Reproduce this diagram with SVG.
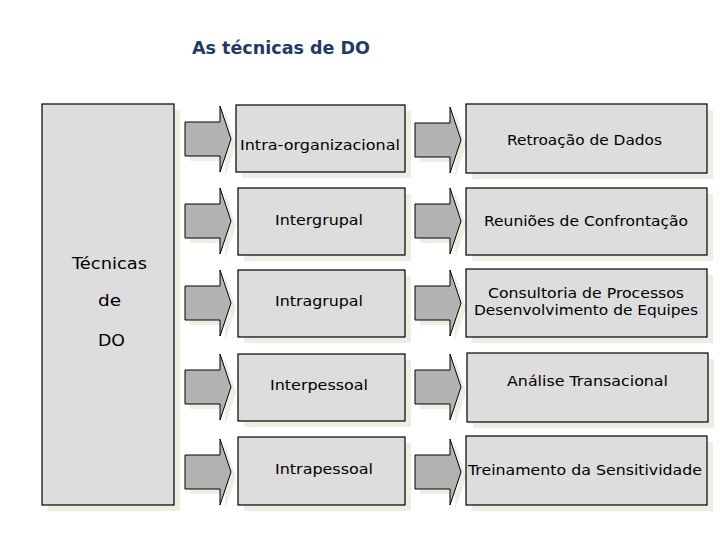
<svg xmlns="http://www.w3.org/2000/svg" xmlns:xlink="http://www.w3.org/1999/xlink" width="720" height="540" viewBox="0 0 720 540">
<style>
.box{fill:#DDDDDD;stroke:#000;stroke-width:1.2}
.sh{fill:#EEECE3;stroke:none}
.arr{fill:#B2B2B2;stroke:#000;stroke-width:1}
.t{font-family:"DejaVu Sans",Verdana,sans-serif;font-size:14.5px;fill:#000;text-anchor:start}
.title{font-family:"DejaVu Sans",Verdana,sans-serif;font-size:17px;font-weight:bold;fill:#1F3B64}
</style>
<defs>
<polygon id="arrow" points="0,16 35,16 35,0 46,33 35,66 35,50 0,50"/>
</defs>
<rect width="720" height="540" fill="#fff"/>
<text class="title" x="192" y="54" textLength="178" lengthAdjust="spacingAndGlyphs">As técnicas de DO</text>

<g id="main">
<rect class="sh" x="48" y="110" width="132" height="401"/>
<rect class="box" x="42" y="104" width="132" height="401"/>
<text class="t" x="72" y="269" textLength="75" lengthAdjust="spacingAndGlyphs" style="font-size:15.5px">Técnicas</text>
<text class="t" x="98" y="306" textLength="23" lengthAdjust="spacingAndGlyphs" style="font-size:15.5px">de</text>
<text class="t" x="98" y="346" textLength="27" lengthAdjust="spacingAndGlyphs" style="font-size:15.5px">DO</text>
</g>

<g id="connectors">
<g transform="translate(185,106)"><use xlink:href="#arrow" class="sh" transform="translate(5,5)"/><use xlink:href="#arrow" class="arr"/></g>
<g transform="translate(185,188)"><use xlink:href="#arrow" class="sh" transform="translate(5,5)"/><use xlink:href="#arrow" class="arr"/></g>
<g transform="translate(185,270)"><use xlink:href="#arrow" class="sh" transform="translate(5,5)"/><use xlink:href="#arrow" class="arr"/></g>
<g transform="translate(185,354)"><use xlink:href="#arrow" class="sh" transform="translate(5,5)"/><use xlink:href="#arrow" class="arr"/></g>
<g transform="translate(185,439)"><use xlink:href="#arrow" class="sh" transform="translate(5,5)"/><use xlink:href="#arrow" class="arr"/></g>
<g transform="translate(415,107)"><use xlink:href="#arrow" class="sh" transform="translate(5,5)"/><use xlink:href="#arrow" class="arr"/></g>
<g transform="translate(415,188)"><use xlink:href="#arrow" class="sh" transform="translate(5,5)"/><use xlink:href="#arrow" class="arr"/></g>
<g transform="translate(415,270)"><use xlink:href="#arrow" class="sh" transform="translate(5,5)"/><use xlink:href="#arrow" class="arr"/></g>
<g transform="translate(415,354)"><use xlink:href="#arrow" class="sh" transform="translate(5,5)"/><use xlink:href="#arrow" class="arr"/></g>
<g transform="translate(415,439)"><use xlink:href="#arrow" class="sh" transform="translate(5,5)"/><use xlink:href="#arrow" class="arr"/></g>
</g>

<g id="n1">
<rect class="sh" x="242" y="111" width="169" height="67"/>
<rect class="box" x="236" y="105" width="169" height="67"/>
<text class="t" x="240" y="150" textLength="160" lengthAdjust="spacingAndGlyphs">Intra-organizacional</text>
</g>
<g id="n2">
<rect class="sh" x="244" y="194" width="167" height="67"/>
<rect class="box" x="238" y="188" width="167" height="67"/>
<text class="t" x="275" y="225" textLength="88" lengthAdjust="spacingAndGlyphs">Intergrupal</text>
</g>
<g id="n3">
<rect class="sh" x="244" y="276" width="167" height="67"/>
<rect class="box" x="238" y="270" width="167" height="67"/>
<text class="t" x="275" y="306" textLength="88" lengthAdjust="spacingAndGlyphs">Intragrupal</text>
</g>
<g id="n4">
<rect class="sh" x="244" y="360" width="167" height="67"/>
<rect class="box" x="238" y="354" width="167" height="67"/>
<text class="t" x="270" y="390" textLength="98" lengthAdjust="spacingAndGlyphs">Interpessoal</text>
</g>
<g id="n5">
<rect class="sh" x="244" y="443" width="167" height="68"/>
<rect class="box" x="238" y="437" width="167" height="68"/>
<text class="t" x="275" y="474" textLength="98" lengthAdjust="spacingAndGlyphs">Intrapessoal</text>
</g>

<g id="m1">
<rect class="sh" x="472" y="110" width="241" height="69"/>
<rect class="box" x="466" y="104" width="241" height="69"/>
<text class="t" x="507" y="145" textLength="155" lengthAdjust="spacingAndGlyphs">Retroação de Dados</text>
</g>
<g id="m2">
<rect class="sh" x="472" y="194" width="241" height="67"/>
<rect class="box" x="466" y="188" width="241" height="67"/>
<text class="t" x="484" y="226" textLength="204" lengthAdjust="spacingAndGlyphs">Reuniões de Confrontação</text>
</g>
<g id="m3">
<rect class="sh" x="472" y="275" width="241" height="68"/>
<rect class="box" x="466" y="269" width="241" height="68"/>
<text class="t" x="488" y="298" textLength="196" lengthAdjust="spacingAndGlyphs">Consultoria de Processos</text>
<text class="t" x="474" y="315" textLength="224" lengthAdjust="spacingAndGlyphs">Desenvolvimento de Equipes</text>
</g>
<g id="m4">
<rect class="sh" x="473" y="359" width="241" height="69"/>
<rect class="box" x="467" y="353" width="241" height="69"/>
<text class="t" x="507" y="386" textLength="161" lengthAdjust="spacingAndGlyphs">Análise Transacional</text>
</g>
<g id="m5">
<rect class="sh" x="472" y="442" width="241" height="69"/>
<rect class="box" x="466" y="436" width="241" height="69"/>
<text class="t" x="468" y="475" textLength="234" lengthAdjust="spacingAndGlyphs">Treinamento da Sensitividade</text>
</g>
</svg>
